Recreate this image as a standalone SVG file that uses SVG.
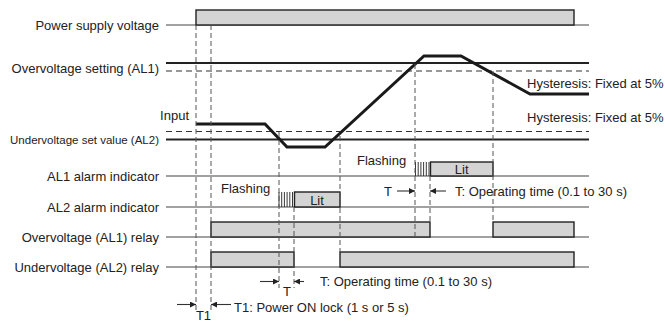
<svg xmlns="http://www.w3.org/2000/svg" width="665" height="323" viewBox="0 0 665 323">
<style>
text{font-family:"Liberation Sans",Arial,sans-serif;font-size:13px;fill:#222}
.lbl{text-anchor:end}
.base{stroke:#444;stroke-width:1.2;fill:none}
.thick{stroke:#222;stroke-width:2.2;fill:none}
.hys{stroke:#333;stroke-width:1.2;stroke-dasharray:6,4;fill:none}
.box{fill:#d4d4d4;stroke:#222;stroke-width:1.4}
.vd{stroke:#555;stroke-width:1;stroke-dasharray:5,3;fill:none}
.hatch{stroke:#222;stroke-width:0.9}
.arr{stroke:#333;stroke-width:1.1;fill:none;marker-end:url(#ah)}
</style>
<defs>
<marker id="ah" viewBox="0 0 10 10" refX="10" refY="5" markerWidth="8" markerHeight="6" markerUnits="userSpaceOnUse" orient="auto">
<path d="M0,0 L10,5 L0,10 Z" fill="#222"/>
</marker>
</defs>

<g id="power">
<text class="lbl" x="159" y="29.5">Power supply voltage</text>
<line class="base" x1="166" y1="25" x2="589" y2="25"/>
<rect class="box" x="196" y="10" width="378" height="15"/>
</g>

<g id="al1-setting">
<text class="lbl" x="159" y="73">Overvoltage setting (AL1)</text>
<line class="thick" x1="166" y1="63" x2="589" y2="63"/>
<line class="hys" x1="166" y1="71" x2="589" y2="71"/>
<text x="527" y="87.5">Hysteresis: Fixed at 5%</text>
</g>

<g id="al2-setting">
<text class="lbl" x="159" y="144" style="font-size:11.5px">Undervoltage set value (AL2)</text>
<line class="hys" x1="166" y1="131.5" x2="589" y2="131.5"/>
<line class="thick" x1="166" y1="139.5" x2="589" y2="139.5"/>
<text x="527" y="122">Hysteresis: Fixed at 5%</text>
</g>

<g id="input">
<text class="lbl" x="189" y="120">Input</text>
<polyline points="196,124 265,124 287,147 325,147 424,56 461,56 530,94 589,94" fill="none" stroke="#1a1a1a" stroke-width="3" stroke-linejoin="miter"/>
</g>

<g id="al1-indicator">
<text class="lbl" x="159" y="180.5">AL1 alarm indicator</text>
<line class="base" x1="166" y1="176" x2="589" y2="176"/>
<g class="hatch">
<line x1="415.5" y1="162" x2="415.5" y2="176"/>
<line x1="418.2" y1="162" x2="418.2" y2="176"/>
<line x1="420.9" y1="162" x2="420.9" y2="176"/>
<line x1="423.6" y1="162" x2="423.6" y2="176"/>
<line x1="426.3" y1="162" x2="426.3" y2="176"/>
<line x1="429" y1="162" x2="429" y2="176"/>
</g>
<rect class="box" x="430.5" y="162" width="62.5" height="14"/>
<text x="461.7" y="174" text-anchor="middle">Lit</text>
<text x="357" y="165">Flashing</text>
</g>

<g id="al2-indicator">
<text class="lbl" x="159" y="211.5">AL2 alarm indicator</text>
<line class="base" x1="166" y1="207" x2="589" y2="207"/>
<g class="hatch">
<line x1="279" y1="192" x2="279" y2="207"/>
<line x1="281.7" y1="192" x2="281.7" y2="207"/>
<line x1="284.4" y1="192" x2="284.4" y2="207"/>
<line x1="287.1" y1="192" x2="287.1" y2="207"/>
<line x1="289.8" y1="192" x2="289.8" y2="207"/>
<line x1="292.5" y1="192" x2="292.5" y2="207"/>
</g>
<rect class="box" x="294.5" y="192" width="45.5" height="15"/>
<text x="317" y="205" text-anchor="middle">Lit</text>
<text x="221" y="193">Flashing</text>
</g>

<g id="al1-relay">
<text class="lbl" x="159" y="241.5">Overvoltage (AL1) relay</text>
<line class="base" x1="166" y1="237" x2="589" y2="237"/>
<rect class="box" x="211" y="222" width="219" height="15"/>
<rect class="box" x="493" y="222" width="81" height="15"/>
</g>

<g id="al2-relay">
<text class="lbl" x="159" y="271.5">Undervoltage (AL2) relay</text>
<line class="base" x1="166" y1="267" x2="589" y2="267"/>
<rect class="box" x="211" y="252" width="83" height="15"/>
<rect class="box" x="340" y="252" width="234" height="15"/>
</g>

<g id="connectors">
<line class="vd" x1="196" y1="25" x2="196" y2="313"/>
<line class="vd" x1="211" y1="25" x2="211" y2="313"/>
<line class="vd" x1="279" y1="132" x2="279" y2="288"/>
<line class="vd" x1="294" y1="207" x2="294" y2="288"/>
<line class="vd" x1="340" y1="136" x2="340" y2="252"/>
<line class="vd" x1="415" y1="64" x2="415" y2="237"/>
<line class="vd" x1="430" y1="176" x2="430" y2="222"/>
<line class="vd" x1="493" y1="71" x2="493" y2="222"/>

<line class="arr" x1="397" y1="191" x2="415" y2="191"/>
<line class="arr" x1="446" y1="191" x2="430" y2="191"/>
<line class="arr" x1="260" y1="281.5" x2="279" y2="281.5"/>
<line class="arr" x1="304" y1="281.5" x2="294" y2="281.5"/>
<line class="arr" x1="177" y1="304.5" x2="196" y2="304.5"/>
<line class="arr" x1="231" y1="304.5" x2="211" y2="304.5"/>
</g>

<g id="annotations">
<text x="384" y="196">T</text>
<text x="455" y="196">T: Operating time (0.1 to 30 s)</text>
<text x="287" y="296" text-anchor="middle">T</text>
<text x="320" y="286">T: Operating time (0.1 to 30 s)</text>
<text x="203.5" y="320" text-anchor="middle">T1</text>
<text x="234" y="312">T1: Power ON lock (1 s or 5 s)</text>
</g>
</svg>
